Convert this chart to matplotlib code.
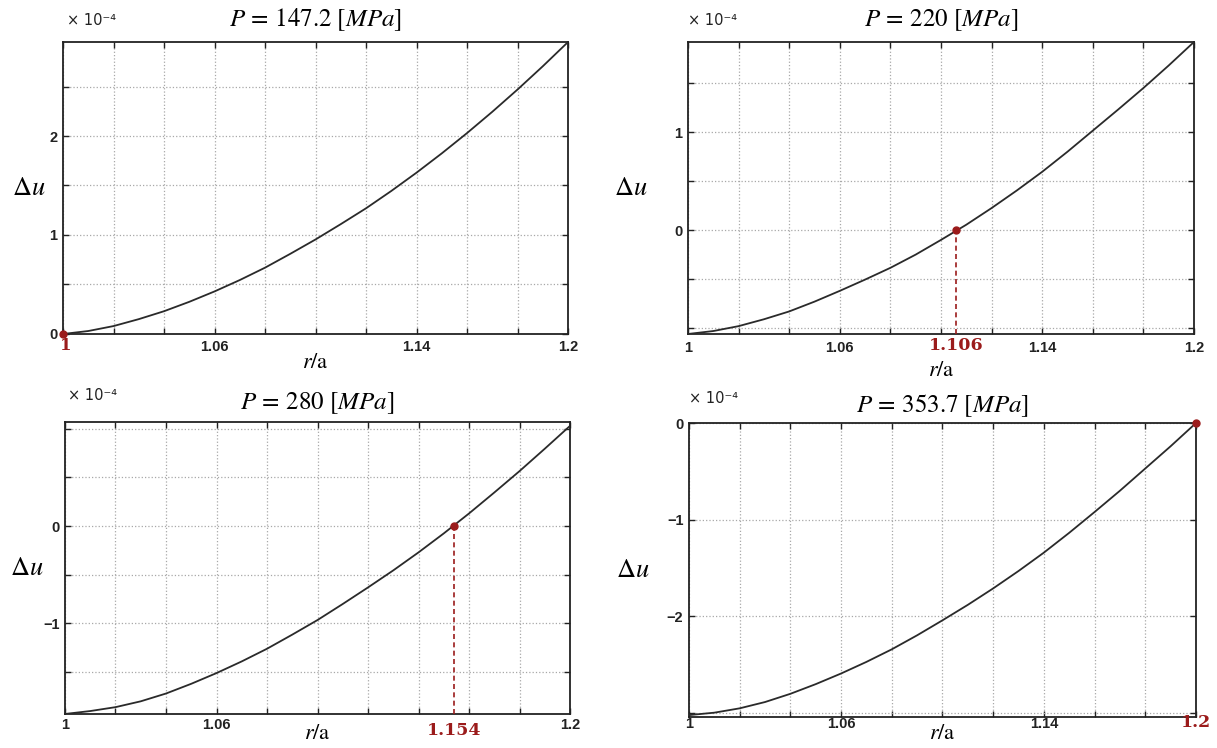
import numpy as np
import matplotlib
matplotlib.use("Agg")
import matplotlib.pyplot as plt

plt.rcParams["mathtext.fontset"] = "stix"

# r/a sampling points
r_over_a = [1.00, 1.01, 1.02, 1.03, 1.04, 1.05, 1.06, 1.07, 1.08, 1.09, 1.10,
            1.11, 1.12, 1.13, 1.14, 1.15, 1.16, 1.17, 1.18, 1.19, 1.20]

# displacement difference, in units of 1e-4
du_p147 = [0.00, 0.03, 0.08, 0.15, 0.23, 0.325, 0.43, 0.545, 0.67, 0.81, 0.955,
           1.11, 1.27, 1.445, 1.63, 1.825, 2.03, 2.245, 2.47, 2.705, 2.95]
du_p220 = [-1.06, -1.03, -0.98, -0.91, -0.83, -0.73, -0.62, -0.505, -0.385, -0.25, -0.10,
           0.055, 0.225, 0.405, 0.595, 0.80, 1.015, 1.23, 1.45, 1.68, 1.92]
du_p280 = [-1.93, -1.90, -1.86, -1.80, -1.72, -1.62, -1.51, -1.39, -1.26, -1.115, -0.965,
           -0.80, -0.63, -0.455, -0.27, -0.075, 0.13, 0.345, 0.565, 0.795, 1.03]
du_p354 = [-3.02, -2.995, -2.95, -2.885, -2.80, -2.70, -2.59, -2.47, -2.34, -2.195, -2.04,
           -1.88, -1.71, -1.53, -1.34, -1.135, -0.92, -0.70, -0.47, -0.24, 0.00]

pressure_labels = ["147.2", "220", "280", "353.7"]
root_values = [1.0, 1.106, 1.154, 1.2]
root_labels = ["1", "1.106", "1.154", "1.2"]

series = [du_p147, du_p220, du_p280, du_p354]

# panel layout: [left, bottom, width, height] in figure fraction
rects = [
    [0.0518, 0.5535, 0.4150, 0.3904],
    [0.5653, 0.5535, 0.4158, 0.3904],
    [0.0534, 0.0455, 0.4150, 0.3904],
    [0.5661, 0.0414, 0.4166, 0.3930],
]
ylims = [(0.0, 2.95), (-1.06, 1.92), (-1.93, 1.07), (-3.04, 0.0)]
ysteps = [0.5, 0.5, 0.5, 1.0]
ylabel_shown = [[0, 1, 2], [0, 1], [0, -1], [0, -1, -2]]
xlabel_shown = [[1.06, 1.14, 1.2], [1.0, 1.06, 1.14, 1.2], [1.0, 1.06, 1.2], [1.0, 1.06, 1.14]]
xtick_pad = [4, 5, 3, 0]
dlabel_x = [-0.067, -0.113, -0.076, -0.110]
xlab_y = [-0.096, -0.123, -0.066, -0.054]
title_y = [1.075, 1.075, 1.065, 1.061]
mult_pos = [(0.008, 1.072), (0.000, 1.072), (0.006, 1.092), (0.000, 1.085)]
root_lab_y = [-0.038, -0.041, -0.055, -0.017]
root_lab_size = [12, 12.5, 12.5, 12.5]

RED = "#9b1b1b"
TICK_FONT = dict(family="Liberation Sans", weight="bold", size=10.5)

fig = plt.figure(figsize=(12.17, 7.48), dpi=100)

for i in range(4):
    ax = fig.add_axes(rects[i])
    x = np.array(r_over_a)
    y = np.array(series[i])
    ax.plot(x, y, color="#2a2a2a", lw=1.3, zorder=3, solid_joinstyle="round")
    ax.set_xlim(1.0, 1.2)
    ax.set_ylim(*ylims[i])

    # tick / grid positions
    xt = np.round(np.arange(1.0, 1.2001, 0.02), 2)
    lo, hi = ylims[i]
    step = ysteps[i]
    yt = np.round(np.arange(np.ceil(lo / step) * step, hi + 1e-9, step), 2)
    ax.set_xticks(xt)
    ax.set_yticks(yt)
    ax.set_xticklabels(["{:g}".format(v) if any(abs(v - s) < 1e-9 for s in xlabel_shown[i]) else ""
                        for v in xt], fontdict=TICK_FONT)
    ax.set_yticklabels(["{:g}".format(v).replace("-", "\u2212") if any(abs(v - s) < 1e-9 for s in ylabel_shown[i]) else ""
                        for v in yt], fontdict=TICK_FONT)
    ax.tick_params(direction="in", length=4, width=1.0, top=True, right=True, colors="#222222")
    ax.tick_params(axis="x", pad=xtick_pad[i])
    ax.tick_params(axis="y", pad=4)
    ax.grid(True, linestyle=":", color="#a8a8a8", lw=0.9)
    for sp in ax.spines.values():
        sp.set_linewidth(1.3)
        sp.set_color("#222222")

    # root of the curve
    rv = root_values[i]
    ax.plot([rv], [0], "o", color=RED, ms=5, zorder=5, clip_on=False)
    if 0 < i < 3:
        ax.plot([rv, rv], [lo, 0], color=RED, lw=1.2, ls=(0, (3, 2)), zorder=4)
    ax.text(rv + (0.001 if i == 0 else 0.0), root_lab_y[i], root_labels[i],
            transform=ax.get_xaxis_transform(), ha="center", va="center",
            color=RED, family="DejaVu Serif", weight="bold", fontsize=root_lab_size[i])

    ax.text(0.5, title_y[i], r"$P\,=\,%s\ [MPa]$" % pressure_labels[i], transform=ax.transAxes,
            ha="center", va="center", fontsize=18)
    ax.text(dlabel_x[i], 0.5, r"$\Delta u$", transform=ax.transAxes,
            ha="center", va="center", fontsize=19)
    ax.text(0.5, xlab_y[i], r"$r/\mathrm{a}$", transform=ax.transAxes,
            ha="center", va="center", fontsize=16)
    mx, my = mult_pos[i]
    ax.text(mx, my, "\u00d7 10\u207b\u2074", transform=ax.transAxes,
            ha="left", va="center", fontsize=10.5, family="DejaVu Sans", color="#222222")

fig.savefig("out.png", dpi=100)
